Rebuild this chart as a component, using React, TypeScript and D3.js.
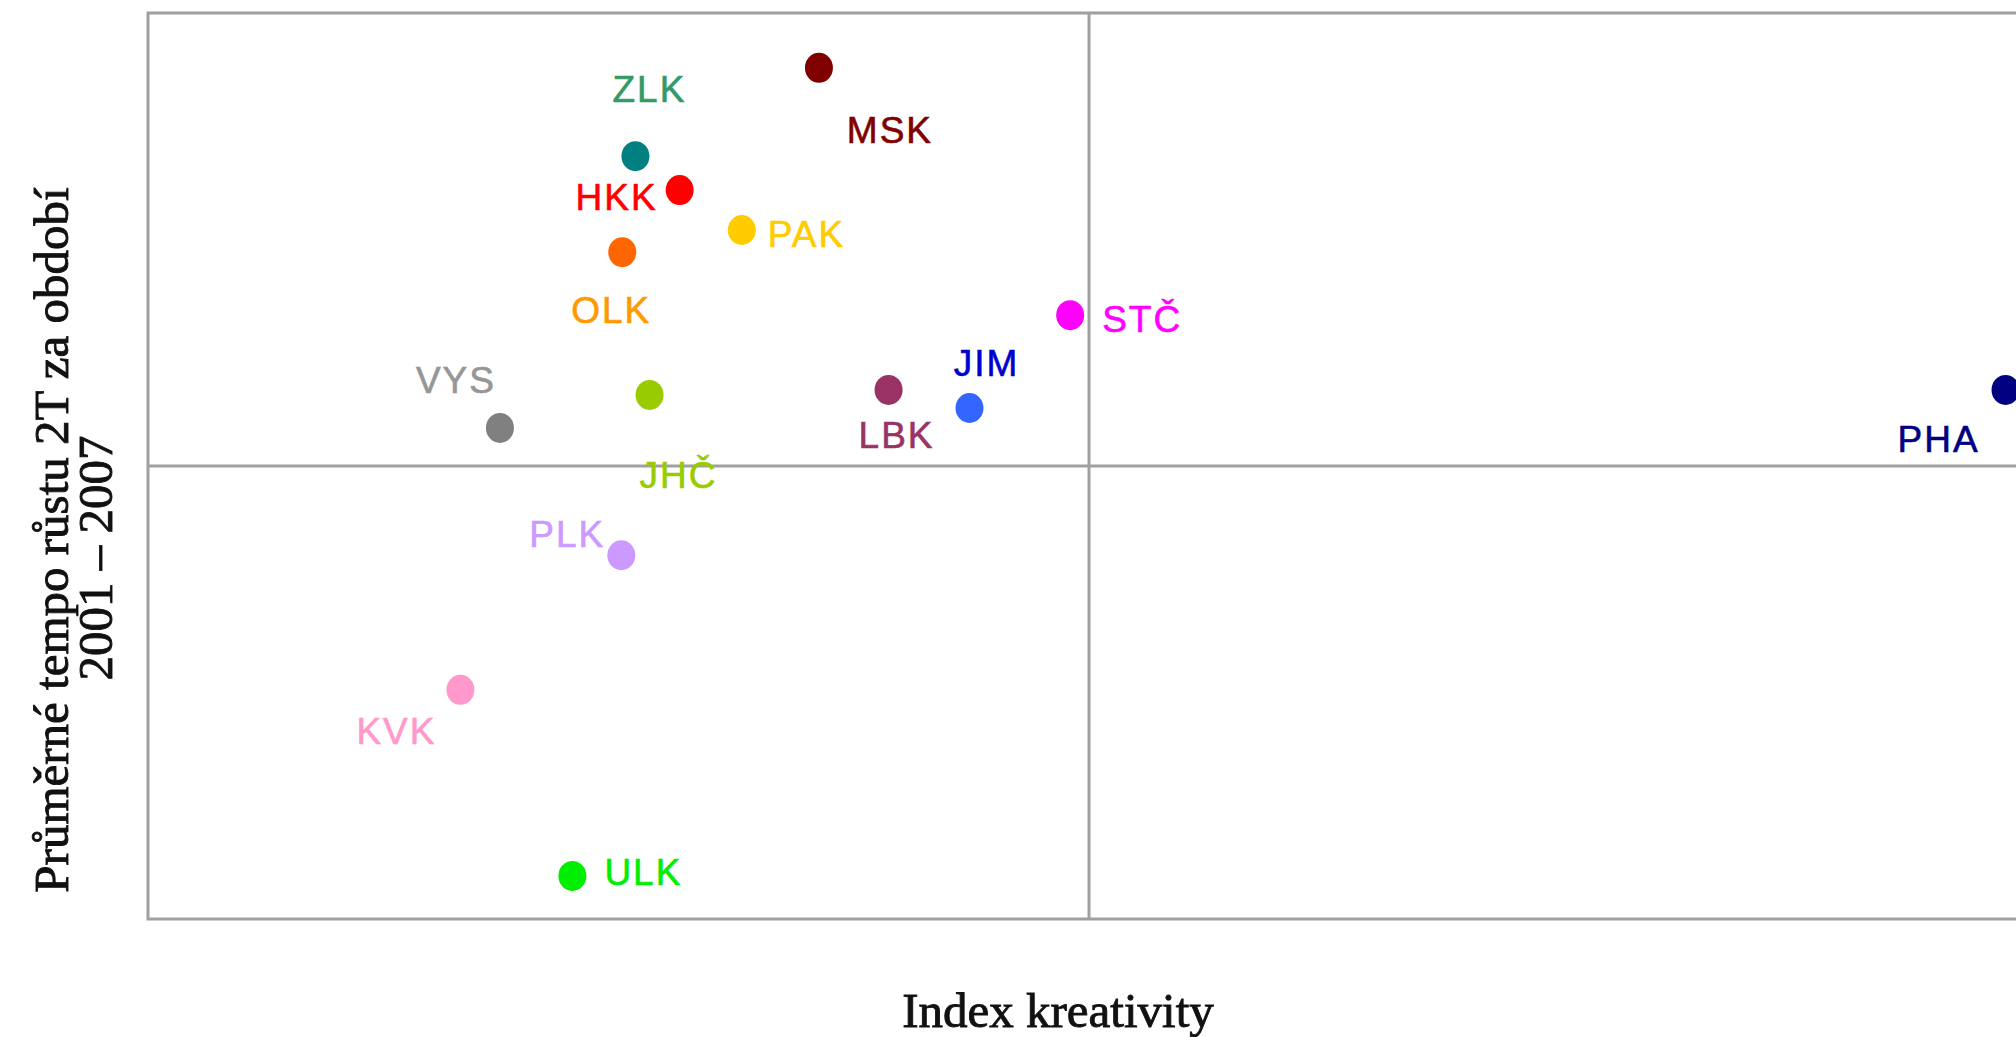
import React from "react";
import * as d3 from "d3";

// Data
const regions = ["MSK", "ZLK", "HKK", "PAK", "OLK", "STČ", "JIM", "LBK", "VYS", "JHČ", "PHA", "PLK", "KVK", "ULK"];
const creativityIndex = [0.713, 0.518, 0.565, 0.631, 0.504, 0.98, 0.873, 0.787, 0.374, 0.533, 1.974, 0.503, 0.332, 0.451];
const growthRate = [0.879, 0.684, 0.609, 0.521, 0.472, 0.333, 0.128, 0.168, 0.084, 0.157, 0.168, -0.197, -0.494, -0.905];
const dotColors = ["#800000", "#008080", "#ff0000", "#ffcc00", "#ff6600", "#ff00ff", "#3366ff", "#993366", "#808080", "#99cc00", "#000080", "#cc99ff", "#ff99cc", "#00ee00"];
const labelColors = ["#800000", "#339966", "#ff0000", "#ffcc00", "#ff9900", "#ff00ff", "#0000cc", "#993366", "#969696", "#99cc00", "#000080", "#cc99ff", "#ff99cc", "#00ee00"];
const xDomain = [0, 2];
const yDomain = [-1, 1];
const xMid = 1;
const yMid = 0;
const xTitle = "Index kreativity";
const yTitleLines = ["Průměrné tempo růstu 2T za období", "2001 – 2007"];

// Layout (label placement relative to dot, in px)
const labelPlacement: Record<string, { dx: number; dy: number; anchor: string }> = {
  MSK: { dx: 71, dy: 63, anchor: "middle" },
  ZLK: { dx: 14, dy: -67, anchor: "middle" },
  HKK: { dx: -22, dy: 7, anchor: "end" },
  PAK: { dx: 26, dy: 5, anchor: "start" },
  OLK: { dx: -11, dy: 58, anchor: "middle" },
  "STČ": { dx: 32, dy: 4, anchor: "start" },
  JIM: { dx: 17, dy: -45, anchor: "middle" },
  LBK: { dx: 8, dy: 46, anchor: "middle" },
  VYS: { dx: -44, dy: -47, anchor: "middle" },
  "JHČ": { dx: 29, dy: 81, anchor: "middle" },
  PHA: { dx: -67, dy: 50, anchor: "middle" },
  PLK: { dx: -54, dy: -21, anchor: "middle" },
  KVK: { dx: -64, dy: 42, anchor: "middle" },
  ULK: { dx: 32, dy: -3, anchor: "start" },
};

const W = 2016;
const H = 1037;
const plot = { left: 148, top: 13, right: 2030, bottom: 919 };

export default function App() {
  const x = d3.scaleLinear().domain(xDomain).range([plot.left, plot.right]);
  const y = d3.scaleLinear().domain(yDomain).range([plot.bottom, plot.top]);
  const gridColor = "#a0a0a0";
  const labelFont = "'Liberation Sans', Arial, sans-serif";
  const titleFont = "'Liberation Serif', 'Times New Roman', serif";

  return (
    <svg
      width={W}
      height={H}
      style={{ position: "absolute", left: 0, top: 0, background: "#fff" }}
    >
      <rect x={0} y={0} width={W} height={H} fill="#fff" />
      <rect
        x={plot.left}
        y={plot.top}
        width={plot.right - plot.left}
        height={plot.bottom - plot.top}
        fill="#fff"
        stroke={gridColor}
        strokeWidth={3}
      />
      <line x1={x(xMid)} x2={x(xMid)} y1={plot.top} y2={plot.bottom} stroke={gridColor} strokeWidth={3} />
      <line x1={plot.left} x2={plot.right} y1={y(yMid)} y2={y(yMid)} stroke={gridColor} strokeWidth={3} />

      {regions.map((r, i) => {
        const cx = x(creativityIndex[i]);
        const cy = y(growthRate[i]);
        const p = labelPlacement[r];
        return (
          <g key={r}>
            <ellipse cx={cx} cy={cy} rx={14} ry={15} fill={dotColors[i]} />
            <text
              x={cx + p.dx}
              y={cy + p.dy}
              textAnchor={p.anchor}
              dominantBaseline="central"
              fill={labelColors[i]}
              stroke={labelColors[i]}
              strokeWidth={0.6}
              fontFamily={labelFont}
              fontSize={37}
              letterSpacing={2}
            >
              {r}
            </text>
          </g>
        );
      })}

      <text
        x={1058}
        y={1027}
        textAnchor="middle"
        fontFamily={titleFont}
        fontSize={49}
        fill="#111"
        stroke="#111"
        strokeWidth={0.9}
      >
        {xTitle}
      </text>
      <g transform="translate(68,540) rotate(-90)">
        <text x={0} y={0} textAnchor="middle" fontFamily={titleFont} fontSize={49} fill="#111" stroke="#111" strokeWidth={0.9}>
          {yTitleLines[0]}
        </text>
      </g>
      <g transform="translate(112,558) rotate(-90)">
        <text x={0} y={0} textAnchor="middle" fontFamily={titleFont} fontSize={49} fill="#111" stroke="#111" strokeWidth={0.9}>
          {yTitleLines[1]}
        </text>
      </g>
    </svg>
  );
}
